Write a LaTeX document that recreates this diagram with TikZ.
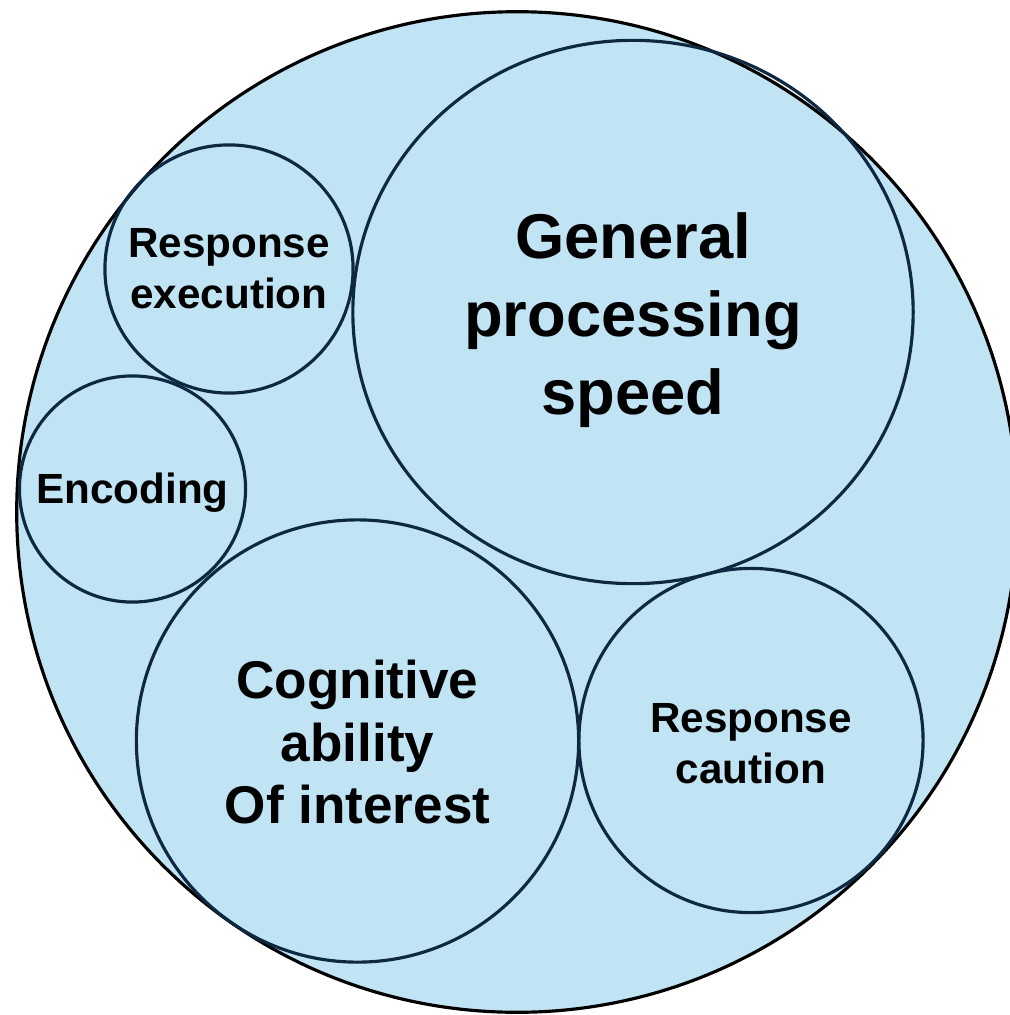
\documentclass[tikz,border=0pt]{standalone}
\usepackage{fontspec}
\setmainfont{Liberation Sans}
\usetikzlibrary{shapes.geometric}

\definecolor{bgblue}{HTML}{C1E4F5}
\definecolor{partline}{HTML}{0E2841}

\tikzset{
    part/.style={circle, draw=partline, line width=0.9pt, inner sep=0pt},
    smalltxt/.style={align=center, font=\fontsize{12pt}{14.5pt}\selectfont\bfseries},
    midtxt/.style={align=center, font=\fontsize{15.1pt}{17.9pt}\selectfont\bfseries},
    bigtxt/.style={align=center, font=\fontsize{18pt}{22.1pt}\selectfont\bfseries}
}

\begin{document}
\begin{tikzpicture}[x=0.01cm,y=-0.01cm]
    \useasboundingbox (0,0) rectangle (1010,1015);
    \clip (0,0) rectangle (1010,1015);
    % outer circle
    \node[circle, draw=black, line width=0.9pt, fill=bgblue, minimum size=10cm, inner sep=0pt] (whole) at (517,512) {};
    % components
    \node[part, minimum size=2.48cm, label={[smalltxt]center:Response\\execution}] (execution) at (229,269) {};
    \node[part, ellipse, minimum width=5.6cm, minimum height=5.43cm, label={[bigtxt, yshift=-2.3pt]center:General\\processing\\speed}] (speed) at (633,312) {};
    \node[part, minimum size=2.26cm, label={[smalltxt, yshift=-1.1pt]center:Encoding}] (encoding) at (132.5,489) {};
    \node[part, minimum size=4.42cm, label={[midtxt, yshift=-0.3pt]center:Cognitive\\ability\\Of interest}] (ability) at (357.5,741) {};
    \node[part, minimum size=3.44cm, label={[smalltxt, yshift=-0.8pt]center:Response\\caution}] (caution) at (751,740.5) {};
\end{tikzpicture}
\end{document}
